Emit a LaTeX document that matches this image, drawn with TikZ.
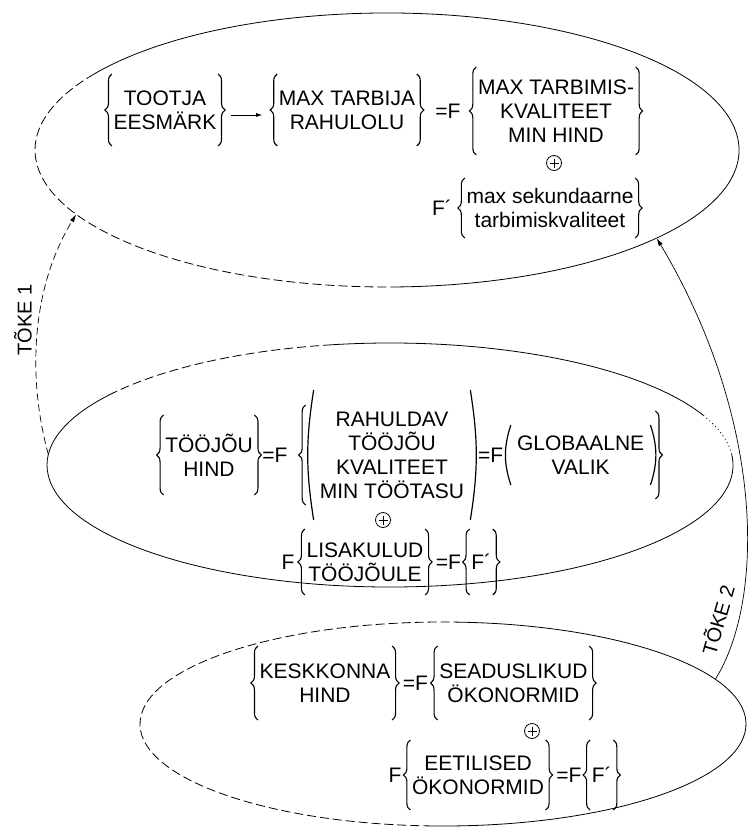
\documentclass[tikz,border=0pt]{standalone}
\usepackage{fontspec}
\setmainfont{Liberation Sans}
\usetikzlibrary{arrows.meta,decorations.pathreplacing}
% braces on both sides of a node: #1 node, #2 half height
\newcommand\brc[2]{%
  \draw[brcs] ([yshift=-#2]#1.west) -- ([yshift=#2]#1.west);
  \draw[brcs] ([yshift=#2]#1.east) -- ([yshift=-#2]#1.east);}
% parentheses on both sides of a node: #1 node, #2 half height, #3 bend
\newcommand\prn[3]{%
  \draw[prns] ([yshift=-#2]#1.west) to[bend left=#3] ([yshift=#2]#1.west);
  \draw[prns] ([yshift=#2]#1.east) to[bend left=#3] ([yshift=-#2]#1.east);}
\begin{document}
\begin{tikzpicture}[x=1pt,y=-1pt,
  stack/.style={font=\fontsize{21}{24}\selectfont, align=center, inner xsep=1.5pt, inner ysep=0pt},
  op/.style={font=\fontsize{21}{24}\selectfont, inner sep=0.5pt},
  lbl/.style={font=\fontsize{20}{23}\selectfont, inner sep=1pt},
  brcs/.style={decorate, decoration={brace, amplitude=7pt}, line width=1.1pt},
  prns/.style={line width=1.2pt},
  plus/.style={circle, draw, line width=0.8pt, minimum size=15pt, inner sep=0pt,
    path picture={\draw[line width=1pt]
      ([xshift=-4.5pt]path picture bounding box.center) -- ([xshift=4.5pt]path picture bounding box.center)
      ([yshift=-4.5pt]path picture bounding box.center) -- ([yshift=4.5pt]path picture bounding box.center);}},
  ell/.style={line width=0.8pt},
  dsh/.style={line width=0.8pt, dash pattern=on 9pt off 4pt},
  dotl/.style={line width=0.8pt, dash pattern=on 1pt off 3pt},
  conn/.style={line width=0.7pt, -{Latex[length=8pt,width=4.5pt]}},
  small/.style={line width=0.8pt, -{Latex[length=6pt,width=4pt]}}]
\useasboundingbox (0,0) rectangle (748,832);
\fill[white] (0,0) rectangle (748,832);

% top ellipse
\begin{scope}[shift={(387,150)}]
  \draw[dsh] (88:352 and 137) arc[start angle=88,end angle=212,x radius=352,y radius=137];
  \draw[ell] (212:352 and 137) arc[start angle=212,end angle=448,x radius=352,y radius=137];
  \coordinate (tA) at (152:352 and 137);
  \coordinate (tB) at (40:352 and 137);
\end{scope}

% middle ellipse
\begin{scope}[shift={(390,465)}]
  \draw[dsh] (215:343 and 122) arc[start angle=215,end angle=260,x radius=343,y radius=122];
  \draw[ell] (260:343 and 122) arc[start angle=260,end angle=336,x radius=343,y radius=122];
  \draw[dotl] (336:343 and 122) arc[start angle=336,end angle=355,x radius=343,y radius=122];
  \draw[ell] (355:343 and 122) arc[start angle=355,end angle=575,x radius=343,y radius=122];
  \coordinate (mL) at (185:343 and 122);
\end{scope}

% bottom ellipse
\begin{scope}[shift={(443,724)}]
  \draw[dsh] (92:303 and 102) arc[start angle=92,end angle=272,x radius=303,y radius=102];
  \draw[ell] (272:303 and 102) arc[start angle=272,end angle=452,x radius=303,y radius=102];
  \coordinate (bR) at (334:303 and 102);
\end{scope}

% ---- top ellipse text
\node[stack] (tootja) at (165,110) {TOOTJA\\EESMÄRK};
\brc{tootja}{36pt}
\node[stack] (tarbija) at (347,110) {MAX TARBIJA\\RAHULOLU};
\brc{tarbija}{36pt}
\draw[small] ([xshift=13pt,yshift=-5pt]tootja.east) -- ([xshift=-15pt,yshift=-5pt]tootja.east -| tarbija.west);
\node[op] (eqA) at (448,111) {=F};
\node[stack] (tarbimis) at (556,111) {MAX TARBIMIS-\\KVALITEET\\MIN HIND};
\brc{tarbimis}{44pt}
\node[plus] (plusA) at (554,163) {};
\node[op] (Fa) at (442,208) {F´};
\node[stack] (sek) at (550,208) {max sekundaarne\\tarbimiskvaliteet};
\brc{sek}{30pt}

% ---- middle ellipse text
\node[stack] (toojou) at (209,455) {TÖÖJÕU\\HIND};
\brc{toojou}{40pt}
\node[op] (eqB1) at (275,455) {=F};
\node[stack, inner xsep=6pt] (rahul) at (392,455) {RAHULDAV\\TÖÖJÕU\\KVALITEET\\MIN TÖÖTASU};
\prn{rahul}{65pt}{9}
\draw[brcs] ([xshift=-8pt,yshift=-50pt]rahul.west) -- ([xshift=-8pt,yshift=50pt]rahul.west);
\node[op, anchor=west] (eqB2) at ([xshift=7pt]rahul.east) {=F};
\node[stack, inner xsep=6pt, anchor=west] (glob) at ([xshift=7pt]eqB2.east) {GLOBAALNE\\VALIK};
\prn{glob}{30pt}{18}
\draw[brcs] ([xshift=5pt,yshift=44pt]glob.east) -- ([xshift=5pt,yshift=-44pt]glob.east);
\node[plus] (plusB) at (383,520) {};
\node[op] (Fb) at (288,562) {F};
\node[stack] (lisa) at (365,562) {LISAKULUD\\TÖÖJÕULE};
\brc{lisa}{33pt}
\node[op, anchor=west] (eqB3) at ([xshift=10pt]lisa.east) {=F};
\node[stack, anchor=west] (fpb) at ([xshift=8pt]eqB3.east) {F´};
\brc{fpb}{33pt}

% ---- bottom ellipse text
\node[stack] (kesk) at (325,683) {KESKKONNA\\HIND};
\brc{kesk}{37pt}
\node[op, anchor=west] (eqC1) at ([xshift=10pt]kesk.east) {=F};
\node[stack, anchor=west] (sead) at ([xshift=9pt]eqC1.east) {SEADUSLIKUD\\ÖKONORMID};
\brc{sead}{37pt}
\node[plus] (plusC) at (532,731) {};
\node[op] (Fc) at (395,775) {F};
\node[stack] (eetil) at (478,775) {EETILISED\\ÖKONORMID};
\brc{eetil}{35pt}
\node[op, anchor=west] (eqC2) at ([xshift=10pt]eetil.east) {=F};
\node[stack, anchor=west] (fpc) at ([xshift=8pt]eqC2.east) {F´};
\brc{fpc}{35pt}

% ---- feedback connectors
\draw[conn, dash pattern=on 7pt off 4pt] (mL) .. controls (28,380) and (30,290) .. (tA);
\draw[conn] (bR) .. controls (765,600) and (765,420) .. (tB);
\node[lbl, rotate=90] (toke1) at (23,320) {TÕKE 1};
\node[lbl, rotate=74] (toke2) at (717,620) {TÕKE 2};
\end{tikzpicture}
\end{document}
